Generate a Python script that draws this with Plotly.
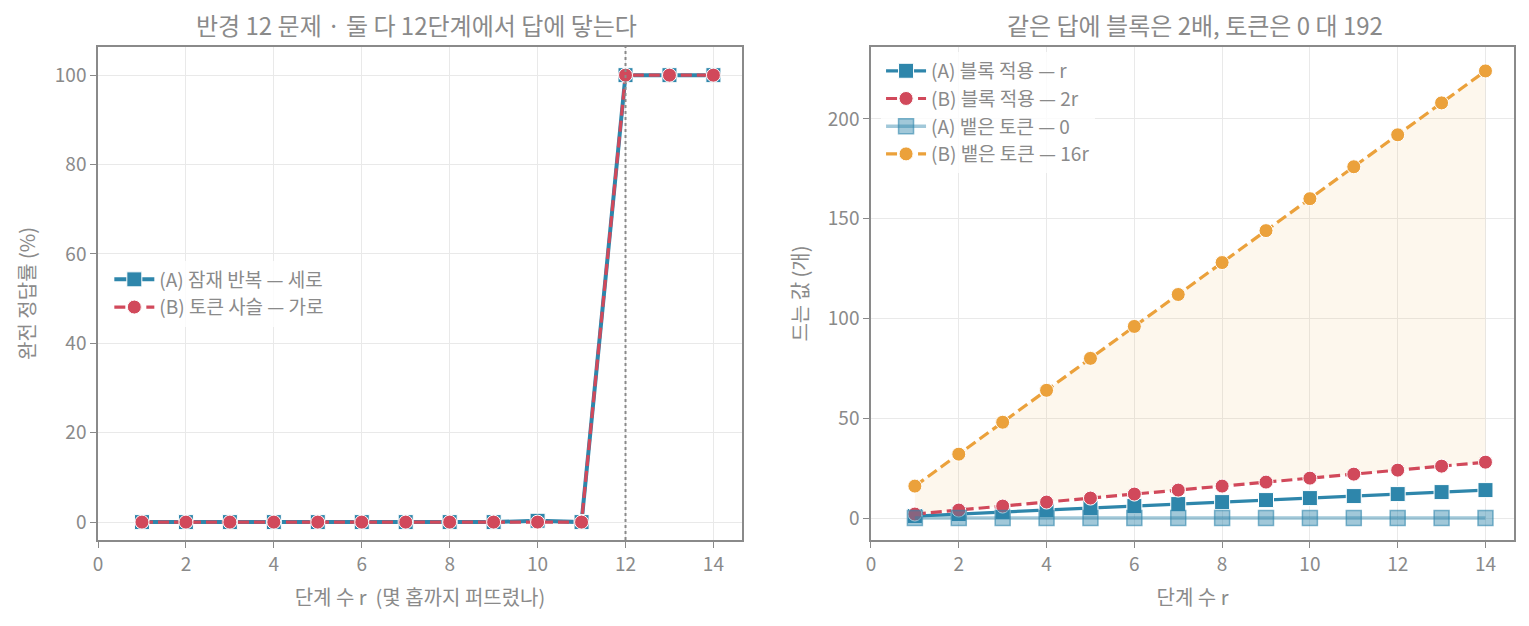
import plotly.graph_objects as go
from plotly.subplots import make_subplots

# --- 데이터 ---
r = list(range(1, 15))
acc_a = [0, 0, 0, 0, 0, 0, 0, 0, 0, 0.3, 0, 100, 100, 100]
acc_b = [0, 0, 0, 0, 0, 0, 0, 0, 0, 0, 0, 100, 100, 100]
blocks_a = [1, 2, 3, 4, 5, 6, 7, 8, 9, 10, 11, 12, 13, 14]
blocks_b = [2, 4, 6, 8, 10, 12, 14, 16, 18, 20, 22, 24, 26, 28]
tokens_a = [0] * 14
tokens_b = [16, 32, 48, 64, 80, 96, 112, 128, 144, 160, 176, 192, 208, 224]
answer_r = 12

BLUE = "#2E86AB"
BLUE_LIGHT = "rgba(46,134,171,0.45)"
RED = "#D1495B"
ORANGE = "#EBA13B"
GRAY = "#8a8a8a"
FONT = "Noto Sans CJK KR"
DASH = "11px,5px"

fig = make_subplots(rows=1, cols=2,
                    subplot_titles=("반경 12 문제 · 둘 다 12단계에서 답에 닿는다",
                                    "같은 답에 블록은 2배, 토큰은 0 대 192"))

# 왼쪽: 완전 정답률
fig.add_trace(go.Scatter(x=r, y=acc_a, name="(A) 잠재 반복 — 세로", mode="lines+markers",
                         line=dict(color=BLUE, width=4),
                         marker=dict(symbol="square", size=15, color=BLUE,
                                     line=dict(color="white", width=1)),
                         legend="legend", legendgroup="a1"), row=1, col=1)
fig.add_trace(go.Scatter(x=r, y=acc_b, name="(B) 토큰 사슬 — 가로", mode="lines+markers",
                         line=dict(color=RED, width=3.2, dash=DASH),
                         marker=dict(symbol="circle", size=14, color=RED,
                                     line=dict(color="white", width=1)),
                         legend="legend", legendgroup="b1"), row=1, col=1)
fig.add_vline(x=answer_r, line=dict(color=GRAY, width=2, dash="dot"), row=1, col=1)

# 오른쪽: 드는 값 (2r ~ 16r 사이 음영)
fig.add_trace(go.Scatter(x=r, y=blocks_b, mode="lines", line=dict(width=0),
                         showlegend=False, hoverinfo="skip"), row=1, col=2)
fig.add_trace(go.Scatter(x=r, y=tokens_b, mode="lines", line=dict(width=0),
                         fill="tonexty", fillcolor="rgba(235,161,59,0.09)",
                         showlegend=False, hoverinfo="skip"), row=1, col=2)
fig.add_trace(go.Scatter(x=r, y=blocks_a, name="(A) 블록 적용 — r", mode="lines+markers",
                         line=dict(color=BLUE, width=3.2),
                         marker=dict(symbol="square", size=15, color=BLUE,
                                     line=dict(color="white", width=1)),
                         legend="legend2", legendgroup="a2"), row=1, col=2)
fig.add_trace(go.Scatter(x=r, y=blocks_b, name="(B) 블록 적용 — 2r", mode="lines+markers",
                         line=dict(color=RED, width=3.2, dash=DASH),
                         marker=dict(symbol="circle", size=14, color=RED,
                                     line=dict(color="white", width=1)),
                         legend="legend2", legendgroup="b2"), row=1, col=2)
fig.add_trace(go.Scatter(x=r, y=tokens_a, name="(A) 뱉은 토큰 — 0", mode="lines+markers",
                         line=dict(color=BLUE_LIGHT, width=3.5),
                         marker=dict(symbol="square", size=15, color=BLUE_LIGHT,
                                     line=dict(color="rgba(46,134,171,0.6)", width=1.5)),
                         legend="legend2", legendgroup="a3"), row=1, col=2)
fig.add_trace(go.Scatter(x=r, y=tokens_b, name="(B) 뱉은 토큰 — 16r", mode="lines+markers",
                         line=dict(color=ORANGE, width=3.2, dash=DASH),
                         marker=dict(symbol="circle", size=14, color=ORANGE,
                                     line=dict(color="white", width=1)),
                         legend="legend2", legendgroup="b3"), row=1, col=2)

axis_style = dict(showline=True, linecolor=GRAY, linewidth=1.5, mirror=True,
                  ticks="outside", tickcolor=GRAY, ticklen=6, tickwidth=1.3,
                  showgrid=True, gridcolor="#e9e9e9", gridwidth=1, zeroline=False,
                  tickfont=dict(size=19, color=GRAY), title_font=dict(size=20, color=GRAY))

fig.update_xaxes(**axis_style, range=[0, 14.65], dtick=2, tick0=0, title_standoff=16)
fig.update_yaxes(**axis_style, title_standoff=14)
fig.update_xaxes(title_text="단계 수 r  (몇 홉까지 퍼뜨렸나)", domain=[0, 0.4548], row=1, col=1)
fig.update_xaxes(title_text="단계 수 r", domain=[0.5459, 1], row=1, col=2)
fig.update_yaxes(title_text="완전 정답률 (%)", range=[-4, 106.3], dtick=20, row=1, col=1)
fig.update_yaxes(title_text="드는 값 (개)", range=[-11, 236], dtick=50, row=1, col=2)

fig.update_annotations(font=dict(size=24, color=GRAY, family=FONT), yshift=3)

legend_style = dict(bgcolor="rgba(255,255,255,0.8)", font=dict(size=19, color=GRAY),
                    traceorder="normal", tracegroupgap=5, itemwidth=40)
fig.update_layout(
    width=1529, height=626,
    margin=dict(l=90, r=23, t=39, b=94),
    plot_bgcolor="white", paper_bgcolor="white",
    font=dict(family=FONT, color=GRAY),
    legend=dict(x=0.008, y=0.50, xanchor="left", yanchor="middle", **legend_style),
    legend2=dict(x=0.553, y=0.99, xanchor="left", yanchor="top", **legend_style),
)

fig.write_html("out.html")
